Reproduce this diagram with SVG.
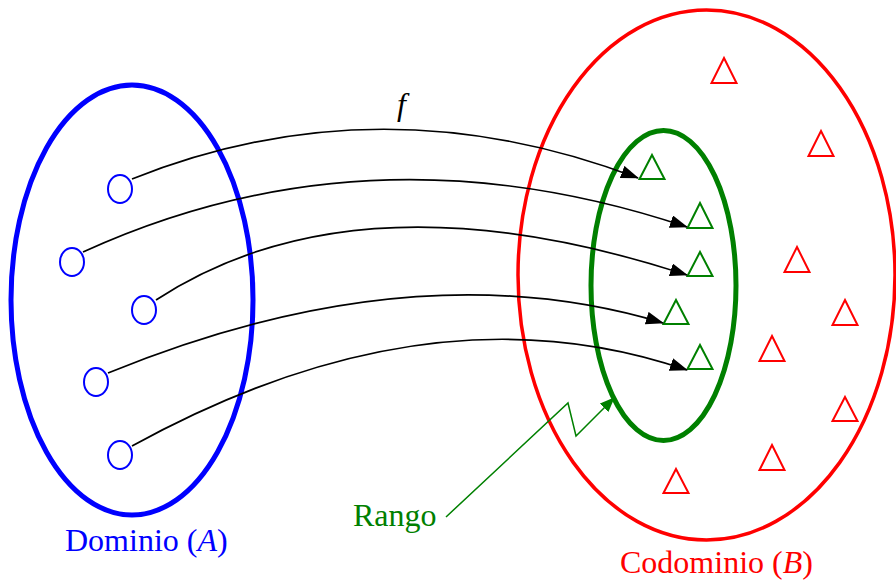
<svg xmlns="http://www.w3.org/2000/svg" width="896" height="581" viewBox="0 0 896 581">
  <defs>
    <marker id="arrow" markerUnits="userSpaceOnUse" markerWidth="18" markerHeight="13" refX="17" refY="6.5" orient="auto">
      <path d="M0,0 L18,6.5 L0,13 Z" fill="#000"/>
    </marker>
    <marker id="arrowGreen" markerUnits="userSpaceOnUse" markerWidth="15" markerHeight="12" refX="14" refY="6" orient="auto">
      <path d="M0,0 L15,6 L0,12 Z" fill="#008000"/>
    </marker>
  </defs>
  <style>
    .lbl { font-family: "Liberation Serif", "Times New Roman", serif; font-size: 32px; }
    .pt { fill: none; stroke: #0000ff; stroke-width: 2; }
    .tg { fill: none; stroke: #008000; stroke-width: 2; }
    .tr { fill: none; stroke: #ff0000; stroke-width: 2; }
    .map { fill: none; stroke: #000; stroke-width: 1.7; marker-end: url(#arrow); }
  </style>

  <!-- Domain set A -->
  <g id="domain">
    <ellipse cx="132" cy="300" rx="121" ry="215" fill="none" stroke="#0000ff" stroke-width="5"/>
    <ellipse class="pt" cx="120" cy="189" rx="12" ry="14"/>
    <ellipse class="pt" cx="72" cy="262" rx="12" ry="14"/>
    <ellipse class="pt" cx="144" cy="310" rx="12" ry="14"/>
    <ellipse class="pt" cx="96" cy="382" rx="12" ry="14"/>
    <ellipse class="pt" cx="120" cy="455" rx="12" ry="14"/>
    <text class="lbl" x="65" y="551" fill="#0000ff">Dominio (<tspan font-style="italic">A</tspan>)</text>
  </g>

  <!-- Codomain set B -->
  <g id="codomain">
    <ellipse cx="706.5" cy="275" rx="188.5" ry="265" fill="none" stroke="#ff0000" stroke-width="3.5"/>
    <path class="tr" d="M724,58 L736.5,83 L711.5,83 Z"/>
    <path class="tr" d="M821,131 L833.5,156 L808.5,156 Z"/>
    <path class="tr" d="M797,247 L809.5,272 L784.5,272 Z"/>
    <path class="tr" d="M845,300 L857.5,325 L832.5,325 Z"/>
    <path class="tr" d="M772,336 L784.5,361 L759.5,361 Z"/>
    <path class="tr" d="M845,397 L857.5,421 L832.5,421 Z"/>
    <path class="tr" d="M772,445 L784.5,470 L759.5,470 Z"/>
    <path class="tr" d="M676,469 L688.5,493 L663.5,493 Z"/>
    <text class="lbl" x="620" y="573" fill="#ff0000">Codominio (<tspan font-style="italic">B</tspan>)</text>
  </g>

  <!-- Range (image of f) -->
  <g id="range">
    <ellipse cx="663.5" cy="285.5" rx="72.5" ry="155" fill="none" stroke="#008000" stroke-width="5"/>
    <path class="tg" d="M652,155 L664.5,179 L639.5,179 Z"/>
    <path class="tg" d="M700,203 L712.5,228 L687.5,228 Z"/>
    <path class="tg" d="M700,252 L712.5,276 L687.5,276 Z"/>
    <path class="tg" d="M676,300 L688.5,324 L663.5,324 Z"/>
    <path class="tg" d="M700,345 L712.5,369 L687.5,369 Z"/>
  </g>

  <!-- Mapping arrows of f -->
  <g id="connectors">
    <path class="map" d="M132,179 Q380,80 638,178"/>
    <path class="map" d="M83,252 Q370,121 687,227"/>
    <path class="map" d="M156,300 Q358,168 687,275"/>
    <path class="map" d="M108,373 Q414,248 663,323"/>
    <path class="map" d="M132,446 Q430,282 687,370"/>
    <path d="M446,517 L568,403 L576,436 L614,398" fill="none" stroke="#008000" stroke-width="1.5" marker-end="url(#arrowGreen)"/>
  </g>

  <g id="labels">
    <text class="lbl" x="397" y="115" font-style="italic" fill="#000">f</text>
    <text class="lbl" x="353" y="526" fill="#008000">Rango</text>
  </g>
</svg>
